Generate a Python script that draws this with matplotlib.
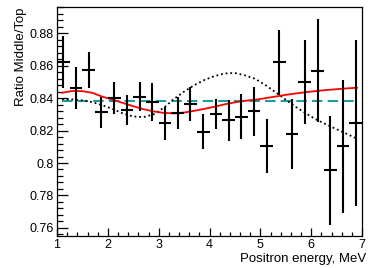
import matplotlib
matplotlib.use("Agg")
import matplotlib.pyplot as plt
from matplotlib.ticker import MultipleLocator, FuncFormatter

plt.rcParams['font.family'] = ['Liberation Sans', 'DejaVu Sans']

# Data points (bin centres, ratio, error)
energy = [1.125, 1.375, 1.625, 1.875, 2.125, 2.375, 2.625, 2.875, 3.125, 3.375, 3.625, 3.875,
          4.125, 4.375, 4.625, 4.875, 5.125, 5.375, 5.625, 5.875, 6.125, 6.375, 6.625, 6.875]
ratio = [0.862, 0.8463, 0.8573, 0.8312, 0.8399, 0.8327, 0.8409, 0.8376, 0.8244, 0.831, 0.8364, 0.8193,
         0.8302, 0.8263, 0.8285, 0.8318, 0.8105, 0.862, 0.8177, 0.850, 0.857, 0.7955, 0.8104, 0.8248]
ratio_err = [0.016, 0.0127, 0.011, 0.0094, 0.0098, 0.0095, 0.009, 0.0115, 0.010, 0.0098, 0.0105, 0.0107,
             0.009, 0.0125, 0.0138, 0.015, 0.0167, 0.0202, 0.0215, 0.0258, 0.032, 0.0335, 0.041, 0.051]
bin_half = 0.125

# Curves
curve_e = [1.1, 1.3, 1.5, 1.7, 1.9, 2.1, 2.3, 2.5, 2.7, 2.9, 3.1, 3.3, 3.5, 3.7, 3.9,
           4.1, 4.3, 4.5, 4.7, 4.9, 5.1, 5.3, 5.5, 5.7, 5.9, 6.1, 6.3, 6.5, 6.7, 6.9]
fit_red = [0.8433, 0.8444, 0.8443, 0.8432, 0.8408, 0.8390, 0.8370, 0.8350, 0.8332, 0.8318,
           0.8309, 0.8306, 0.8311, 0.8322, 0.8334, 0.8347, 0.8362, 0.8374, 0.8384, 0.8390,
           0.8400, 0.8410, 0.8420, 0.8429, 0.8437, 0.8444, 0.8450, 0.8455, 0.8460, 0.8464]
osc_dotted = [0.8394, 0.8392, 0.8386, 0.8375, 0.8355, 0.8332, 0.8305, 0.8287, 0.8283, 0.8300,
              0.8340, 0.8395, 0.8440, 0.8480, 0.8512, 0.8536, 0.8552, 0.8555, 0.8540, 0.8519,
              0.8480, 0.8436, 0.8390, 0.8345, 0.8305, 0.8268, 0.8237, 0.8208, 0.8180, 0.8150]
no_osc_level = 0.838

fig = plt.figure(figsize=(3.74, 2.68), dpi=100)
ax = fig.add_axes([0.1524, 0.1194, 0.8156, 0.8534])

ax.plot(curve_e, [no_osc_level] * len(curve_e), color='#1a9e9e', lw=1.5, ls=(0, (5, 2.5)), zorder=2)
ax.plot(curve_e, osc_dotted, color='black', lw=1.3, ls=(0, (1, 1.6)), zorder=2)
ax.plot(curve_e, fit_red, color='#ff0000', lw=1.3, zorder=3)
ax.errorbar(energy, ratio, yerr=ratio_err, xerr=bin_half, fmt='none', ecolor='black',
            elinewidth=1.5, capsize=0, zorder=4)

ax.set_xlim(1, 7)
ax.set_ylim(0.755, 0.896)
ax.xaxis.set_major_locator(MultipleLocator(1))
ax.xaxis.set_minor_locator(MultipleLocator(0.2))
ax.yaxis.set_major_locator(MultipleLocator(0.02))
ax.yaxis.set_minor_locator(MultipleLocator(0.004))
ax.yaxis.set_major_formatter(FuncFormatter(lambda v, p: f"{v:g}"))
ax.xaxis.set_major_formatter(FuncFormatter(lambda v, p: f"{v:g}"))

ax.tick_params(which='both', direction='in', top=False, right=False, labelsize=9, width=0.9)
ax.tick_params(which='major', axis='y', length=8, pad=2.5)
ax.tick_params(which='minor', axis='y', length=4)
ax.tick_params(which='major', axis='x', length=6, pad=2.5)
ax.tick_params(which='minor', axis='x', length=3)
for s in ax.spines.values():
    s.set_linewidth(0.9)

ax.set_xlabel('Positron energy, MeV', fontsize=9.5, loc='right')
ax.xaxis.set_label_coords(1.015, -0.074)
ax.set_ylabel('Ratio Middle/Top', fontsize=9.5, loc='top', labelpad=1.5)

fig.savefig('out.png', dpi=100)
